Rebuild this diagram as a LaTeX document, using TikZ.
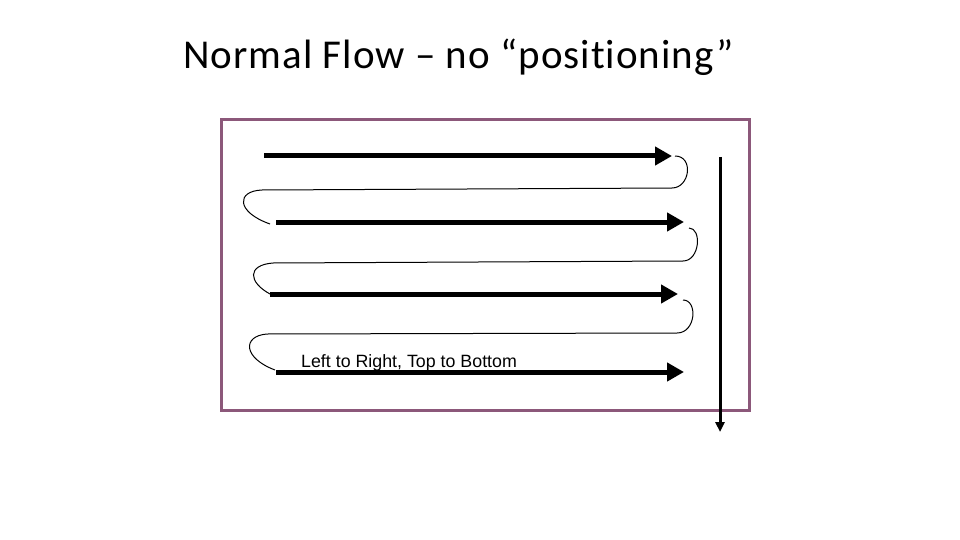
\documentclass[tikz,border=0pt]{standalone}
\usepackage{fontspec}
\setmainfont{Liberation Sans}
\newfontfamily\titlefont[LetterSpace=2.5,Ligatures=NoCommon]{Carlito}
\usetikzlibrary{arrows.meta}
\definecolor{frame}{RGB}{140,88,122}
\tikzset{
  flow/.style={line width=5pt,-{Triangle[length=17pt,width=18pt]}},
  down/.style={line width=3pt,-{Triangle[length=10pt,width=9pt]}},
  loopline/.style={line width=1pt},
}
\begin{document}
\begin{tikzpicture}[x=1pt,y=-1pt]
\useasboundingbox (0,0) rectangle (960,540);
\node[anchor=base west,inner sep=0pt,font=\titlefont\fontsize{41}{44}\selectfont] (title) at (183,69) {Normal Flow – no “positioning”};
\draw[frame,line width=3pt] (221.5,120) rectangle (749.5,410.5);
% arrows
\coordinate (a1s) at (264,156); \coordinate (a1e) at (672,156);
\coordinate (a2s) at (276,222); \coordinate (a2e) at (684,222);
\coordinate (a3s) at (270,294); \coordinate (a3e) at (678,294);
\coordinate (a4s) at (276,372); \coordinate (a4e) at (684,372);
\draw[flow] (a1s) -- (a1e);
\draw[flow] (a2s) -- (a2e);
\draw[flow] (a3s) -- (a3e);
\draw[flow] (a4s) -- (a4e);
% loops
\draw[loopline] (675,156) .. controls (694,156) and (690,188) .. (672,188)
  -- (262,190) .. controls (236,191) and (236,212) .. (270,224);
\draw[loopline] (689,228) .. controls (702,228) and (700,261) .. (683,261)
  -- (273,263) .. controls (247,265) and (248,282) .. (270,294);
\draw[loopline] (683,300) .. controls (698,300) and (696,333) .. (677,333)
  -- (267,334) .. controls (242,336) and (243,358) .. (275,370);
% vertical
\coordinate (vs) at (720,157); \coordinate (ve) at (720,432);
\draw[down] (vs) -- (ve);
\node[anchor=base west,inner sep=0pt,font=\fontsize{17.8}{19}\selectfont] (lbl) at (301,367.5) {Left to Right, Top to Bottom};
\end{tikzpicture}
\end{document}
